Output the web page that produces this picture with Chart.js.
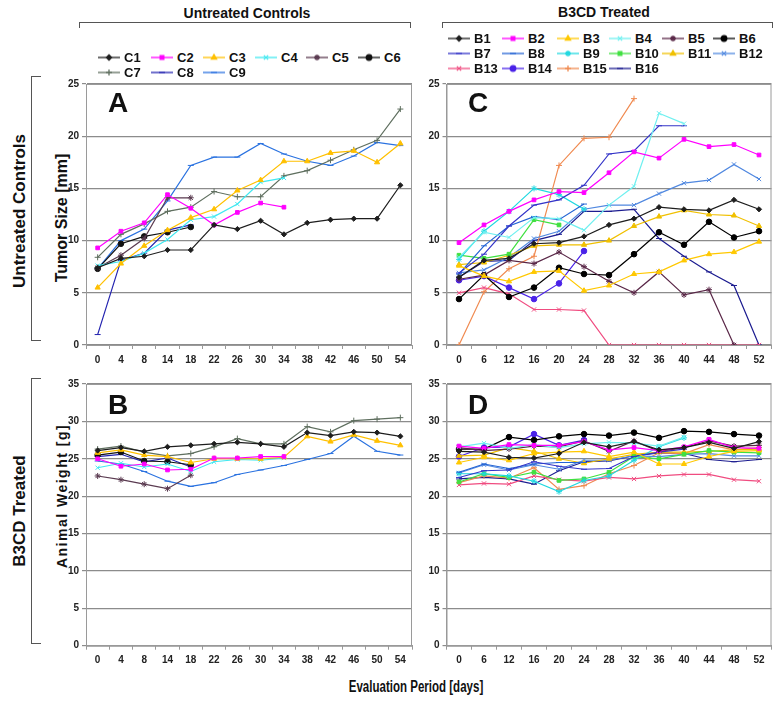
<!DOCTYPE html>
<html lang="en">
<head>
<meta charset="UTF-8" />
<title>Tumor size and animal weight</title>
<script src="https://cdn.jsdelivr.net/npm/chart.js"></script>
<style>
  body { margin: 0; background: #fff; font-family: "Liberation Sans", Arial, sans-serif; }
  #page { position: relative; width: 783px; height: 703px; overflow: hidden; }
  .panel { position: absolute; width: 370px; height: 300px; }
  .txt { position: absolute; font-weight: bold; color: #111; white-space: nowrap; transform: translate(-50%, -50%); }
  .rot { transform: translate(-50%, -50%) rotate(-90deg); }
  .ln { position: absolute; background: #555; }
  .leg { position: absolute; display: flex; align-items: center; font-weight: bold; font-size: 13px; color: #111; transform: translateY(-50%); }
  .leg canvas { margin-right: 3px; }
</style>
</head>
<body>
<div id="page">
  <!-- column headers -->
  <div class="txt" style="left:247px;top:13px;font-size:14px">Untreated Controls</div>
  <div class="ln" style="left:79px;top:22px;width:332px;height:1px"></div>
  <div class="ln" style="left:79px;top:22px;width:1px;height:6px"></div>
  <div class="ln" style="left:410px;top:22px;width:1px;height:6px"></div>

  <div class="txt" style="left:604px;top:12px;font-size:14px">B3CD Treated</div>
  <div class="ln" style="left:442px;top:22px;width:331px;height:1px"></div>
  <div class="ln" style="left:442px;top:22px;width:1px;height:6px"></div>
  <div class="ln" style="left:772px;top:22px;width:1px;height:6px"></div>

  <!-- row headers -->
  <div class="txt rot" style="left:20px;top:211px;font-size:17px">Untreated Controls</div>
  <div class="ln" style="left:31px;top:76px;width:1px;height:265px"></div>
  <div class="ln" style="left:31px;top:76px;width:10px;height:1px"></div>
  <div class="ln" style="left:31px;top:340px;width:10px;height:1px"></div>

  <div class="txt rot" style="left:20px;top:511px;font-size:17px">B3CD Treated</div>
  <div class="ln" style="left:31px;top:378px;width:1px;height:266px"></div>
  <div class="ln" style="left:31px;top:378px;width:10px;height:1px"></div>
  <div class="ln" style="left:31px;top:643px;width:10px;height:1px"></div>

  <!-- axis titles -->
  <div class="txt rot" style="left:62px;top:218px;font-size:16px">Tumor Size [mm]</div>
  <div class="txt rot" style="left:62px;top:496px;font-size:14px;letter-spacing:1.5px">Animal Weight [g]</div>
  <div class="txt" style="left:416px;top:687px;font-size:16px;transform:translate(-50%,-50%) scaleX(0.72)">Evaluation Period [days]</div>

  <div class="panel" style="left:50px;top:75px"><canvas id="chartA" width="370" height="300"></canvas></div>
  <div class="panel" style="left:410px;top:75px"><canvas id="chartC" width="370" height="300"></canvas></div>
  <div class="panel" style="left:50px;top:375px"><canvas id="chartB" width="370" height="300"></canvas></div>
  <div class="panel" style="left:410px;top:375px"><canvas id="chartD" width="370" height="300"></canvas></div>

  <!-- panel letters -->
  <div class="txt" style="left:118px;top:103px;font-size:28px">A</div>
  <div class="txt" style="left:478px;top:103px;font-size:28px">C</div>
  <div class="txt" style="left:118px;top:405px;font-size:28px">B</div>
  <div class="txt" style="left:478px;top:405px;font-size:28px">D</div>

  <div id="legends"></div>
</div>

<script>
  // days on the x axis
  const daysCtrl = ["0", "4", "8", "14", "18", "22", "26", "30", "34", "38", "42", "46", "50", "54"];
  const daysTreat = ["0", "6", "12", "16", "20", "24", "28", "32", "36", "40", "44", "48", "52"];
  const sizeTicks = [0, 5, 10, 15, 20, 25];
  const weightTicks = [0, 5, 10, 15, 20, 25, 30, 35];

  const ctrlNames = ["C1", "C2", "C3", "C4", "C5", "C6", "C7", "C8", "C9"];
  const treatNames = ["B1", "B2", "B3", "B4", "B5", "B6", "B7", "B8", "B9", "B10", "B11", "B12", "B13", "B14", "B15", "B16"];

  // panel A - tumor size [mm], untreated controls
  const ctrlTumor = [
    [7.4, 8.3, 8.5, 9.1, 9.1, 11.5, 11.1, 11.9, 10.6, 11.7, 12.0, 12.1, 12.1, 15.3],
    [9.3, 10.9, 11.7, 14.4, 13.1, 11.5, 12.7, 13.6, 13.2],
    [5.5, 7.8, 9.5, 11.0, 12.2, 13.0, 14.8, 15.8, 17.6, 17.6, 18.4, 18.6, 17.5, 19.3],
    [7.6, 8.0, 8.8, 10.1, 12.0, 12.3, 13.5, 15.6, 16.0],
    [7.4, 8.6, 10.2, 14.1, 14.1],
    [7.3, 9.7, 10.4, 10.8, 11.3],
    [8.4, 10.6, 11.6, 12.8, 13.2, 14.7, 14.2, 14.2, 16.2, 16.7, 17.7, 18.7, 19.6, 22.6],
    [1.0, 8.1, 8.8, 11.0, 11.5],
    [7.3, 10.0, 11.1, 13.8, 17.2, 18.0, 18.0, 19.3, 18.3, 17.6, 17.2, 18.1, 19.4, 19.1]
  ];

  // panel B - animal weight [g], untreated controls
  const ctrlWeight = [
    [26.1, 26.5, 26.0, 26.6, 26.8, 27.0, 27.2, 27.0, 26.6, 28.5, 28.1, 28.6, 28.5, 28.0],
    [25.0, 24.0, 24.3, 23.5, 23.6, 25.1, 25.1, 25.3, 25.3],
    [25.8, 26.2, 25.5, 25.3, 24.5, 25.0, 25.0, 25.0, 25.2, 28.0, 27.3, 28.2, 27.4, 26.8],
    [23.8, 24.4, 23.9, 24.3, 23.3, 24.6, 24.9, 24.8, 25.1],
    [22.7, 22.2, 21.6, 21.0, 22.8],
    [25.5, 25.9, 24.7, 24.6, 24.2],
    [26.3, 26.7, 25.9, 25.4, 25.7, 26.6, 27.7, 27.0, 27.0, 29.3, 28.6, 30.1, 30.3, 30.5],
    [25.3, 25.6, 24.6, 25.1, 23.9],
    [24.7, 24.3, 23.3, 22.0, 21.3, 21.8, 22.9, 23.5, 24.1, 24.9, 25.7, 28.0, 26.0, 25.5]
  ];

  // panel C - tumor size [mm], B3CD treated
  const treatTumor = [
    [6.5, 8.1, 8.3, 9.7, 9.8, 10.4, 11.5, 12.1, 13.2, 13.0, 12.9, 13.9, 13.0],
    [9.8, 11.5, 12.8, 13.9, 14.7, 14.6, 16.5, 18.5, 17.9, 19.7, 19.0, 19.2, 18.2],
    [7.6, 6.6, 6.1, 7.0, 7.1, 5.2, 5.7, 6.8, 7.0, 8.1, 8.7, 8.9, 9.9],
    [8.4, 10.8, 10.3, 12.2, 12.1, 11.0, 13.4, 15.2, 22.2, 21.2],
    [6.3, 6.7, 8.1, 7.8, 8.9, 7.5, 6.1, 5.0, 7.0, 4.8, 5.3, 0],
    [4.4, 6.7, 4.6, 5.5, 7.4, 6.8, 6.7, 8.7, 10.8, 9.6, 11.8, 10.3, 10.9],
    [6.9, 8.7, 11.4, 13.4, 13.9, 15.3, 18.3, 18.6, 21.0, 21.0],
    [6.8, 9.5, 11.4, 12.3, 12.0, 13.5],
    [8.2, 10.9, 12.8, 15.0, 14.4, 13.0],
    [8.6, 8.3, 8.7, 12.0, 11.5],
    [7.7, 7.9, 8.6, 9.5, 9.6, 9.6, 10.0, 11.4, 12.3, 12.9, 12.5, 12.4, 11.4],
    [6.9, 7.2, 8.4, 10.2, 10.9, 13.0, 13.4, 13.4, 14.5, 15.5, 15.8, 17.3, 15.9],
    [5.0, 5.5, 4.9, 3.4, 3.4, 3.3, 0, 0, 0, 0, 0, 0, 0],
    [6.2, 6.6, 5.5, 4.4, 5.9, 9.0],
    [0, 5.1, 7.3, 8.5, 17.2, 19.8, 19.9, 23.6],
    [6.5, 8.0, 8.1, 10.0, 10.6, 12.8, 12.8, 13.0, 10.2, 8.5, 7.0, 5.7, 0]
  ];

  // panel D - animal weight [g], B3CD treated
  const treatWeight = [
    [26.0, 25.9, 25.2, 25.1, 25.7, 27.2, 26.6, 27.3, 26.2, 26.5, 27.2, 26.4, 27.3],
    [26.7, 26.4, 26.9, 26.8, 26.8, 27.3, 26.2, 26.5, 26.1, 26.6, 27.6, 26.5, 26.4],
    [24.5, 25.2, 24.8, 25.7, 25.9, 26.0, 25.3, 25.9, 24.3, 24.3, 25.3, 26.0, 26.1],
    [26.6, 27.1, 26.4, 26.9, 26.5, 27.0, 27.2, 27.1, 26.7, 27.9],
    [26.5, 26.1, 26.3, 26.7, 26.6, 27.4, 26.0, 27.4, 26.0, 26.5, 27.4, 26.7, 26.8],
    [26.3, 26.3, 27.9, 27.5, 28.0, 28.3, 28.1, 28.5, 27.8, 28.7, 28.6, 28.3, 28.1],
    [22.5, 23.4, 23.5, 24.6, 24.0, 23.6, 23.7, 25.3, 25.9, 26.3],
    [23.2, 24.3, 23.7, 24.3, 24.5, 24.5],
    [23.0, 23.0, 22.7, 22.0, 20.6, 22.1, 22.7, 24.8, 26.6, 27.8],
    [21.9, 23.0, 22.5, 23.2, 22.1, 22.3, 23.2, 25.3, 25.0, 25.6, 26.1, 25.9, 25.8],
    [25.4, 25.5, 26.5, 26.0, 25.0, 24.4, 25.0, 25.6, 25.9, 25.9, 26.0, 26.2, 26.3],
    [23.1, 24.2, 23.5, 24.2, 23.6, 24.8, 24.8, 25.4, 25.3, 25.6, 25.7, 25.4, 25.4],
    [21.5, 21.7, 21.6, 22.7, 22.2, 22.0, 22.5, 22.3, 22.7, 22.9, 22.9, 22.2, 22.0],
    [25.3, 26.5, 26.6, 28.3, 26.8, 27.5],
    [21.8, 22.7, 22.4, 23.8, 20.9, 21.4, 23.0, 24.1, 25.8, 25.7, 26.9, 26.2, 26.5],
    [22.3, 22.5, 22.3, 21.6, 23.4, 24.6, 24.7, 25.4, 25.8, 25.7, 24.9, 24.6, 24.9]
  ];

  const ctrlColors = ["#1e1e1e", "#ff00ff", "#ffc000", "#40e8f0", "#5a3a50", "#111111", "#5f6f5f", "#2424b0", "#2a72e0"];
  const ctrlMarkers = ["rectRot", "rect", "triangle", "crossRot", "star", "circle", "cross", "line", "line"];
  const treatColors = ["#1e1e1e", "#ff00ff", "#ffc800", "#70f0f0", "#5a2848", "#000000", "#3434c8", "#2464d4",
    "#20d8e0", "#40e040", "#f0c000", "#5088e0", "#f04c80", "#4a22e8", "#f08a50", "#1c1c90"];
  const treatMarkers = ["rectRot", "rect", "triangle", "crossRot", "star", "circle", "line", "line",
    "star", "rect", "triangle", "crossRot", "crossRot", "circle", "cross", "line"];

  const tickFont = { family: "'Liberation Sans', sans-serif", size: 10, weight: "bold" };

  const framePlugin = {
    id: "frame",
    afterDraw(chart) {
      const a = chart.chartArea, ctx = chart.ctx;
      ctx.save();
      ctx.strokeStyle = "#9a9a9a";
      ctx.lineWidth = 1;
      ctx.strokeRect(a.left + 0.5, a.top + 0.5, a.right - a.left - 1, a.bottom - a.top);
      ctx.restore();
    }
  };

  function markerSize(style) {
    if (style === "circle") return 2.8;
    if (style === "rect" || style === "rectRot") return 2.6;
    return 3;
  }

  function makeChart(id, labels, names, rows, colors, markers, ticks, yWidth, xHeight, padRight) {
    const datasets = rows.map((vals, i) => ({
      label: names[i],
      data: vals,
      borderColor: colors[i],
      backgroundColor: colors[i],
      borderWidth: 1.2,
      pointStyle: markers[i],
      pointRadius: markerSize(markers[i]),
      pointBorderWidth: 1,
      tension: 0,
      fill: false
    }));
    new Chart(document.getElementById(id), {
      type: "line",
      data: { labels: labels, datasets: datasets },
      options: {
        responsive: false,
        animation: false,
        events: [],
        layout: { padding: { top: 8, right: padRight, left: 0, bottom: 0 } },
        plugins: { legend: { display: false }, tooltip: { enabled: false } },
        scales: {
          x: {
            offset: true,
            grid: { display: true, drawOnChartArea: false, drawTicks: true, tickLength: 4, color: "#999", offset: true },
            border: { color: "#999" },
            ticks: { font: tickFont, color: "#222", padding: 5, maxRotation: 0, autoSkip: false },
            afterFit: (s) => { s.height = xHeight; }
          },
          y: {
            min: ticks[0],
            max: ticks[ticks.length - 1],
            afterBuildTicks: (s) => { s.ticks = ticks.map((v) => ({ value: v })); },
            ticks: { font: tickFont, color: "#222", padding: 3 },
            grid: { color: "#8c8c8c", lineWidth: 1.2, tickLength: 4 },
            border: { color: "#999" },
            afterFit: (s) => { s.width = yWidth; }
          }
        }
      },
      plugins: [framePlugin]
    });
  }

  makeChart("chartA", daysCtrl, ctrlNames, ctrlTumor, ctrlColors, ctrlMarkers, sizeTicks, 36, 30, 8);
  makeChart("chartB", daysCtrl, ctrlNames, ctrlWeight, ctrlColors, ctrlMarkers, weightTicks, 36, 29.3, 8);
  makeChart("chartC", daysTreat, treatNames, treatTumor, treatColors, treatMarkers, sizeTicks, 36.5, 30, 8.5);
  makeChart("chartD", daysTreat, treatNames, treatWeight, treatColors, treatMarkers, weightTicks, 36.5, 29.3, 8.5);

  // legends (line + marker sample, then name)
  function legendIcon(color, style) {
    const c = document.createElement("canvas");
    c.width = 24;
    c.height = 12;
    const g = c.getContext("2d");
    g.strokeStyle = color;
    g.fillStyle = color;
    g.lineWidth = 1.3;
    g.beginPath();
    g.moveTo(1, 6);
    g.lineTo(23, 6);
    g.stroke();
    if (Chart.helpers && Chart.helpers.drawPoint) {
      Chart.helpers.drawPoint(g, { pointStyle: style, radius: markerSize(style), rotation: 0, borderWidth: 1 }, 12, 6);
    } else {
      g.fillRect(9, 3, 6, 6);
    }
    return c;
  }

  function addLegend(names, colors, markers, cols, rowsY) {
    const box = document.getElementById("legends");
    names.forEach((n, i) => {
      const d = document.createElement("div");
      d.className = "leg";
      d.style.left = cols[i % cols.length] + "px";
      d.style.top = rowsY[Math.floor(i / cols.length)] + "px";
      d.appendChild(legendIcon(colors[i], markers[i]));
      const s = document.createElement("span");
      s.textContent = n;
      d.appendChild(s);
      box.appendChild(d);
    });
  }

  addLegend(ctrlNames, ctrlColors, ctrlMarkers, [97, 150, 202, 254, 305, 357], [57, 72]);
  addLegend(treatNames, treatColors, treatMarkers, [447, 501, 556, 608, 661, 712], [38, 53, 68]);
</script>
</body>
</html>
